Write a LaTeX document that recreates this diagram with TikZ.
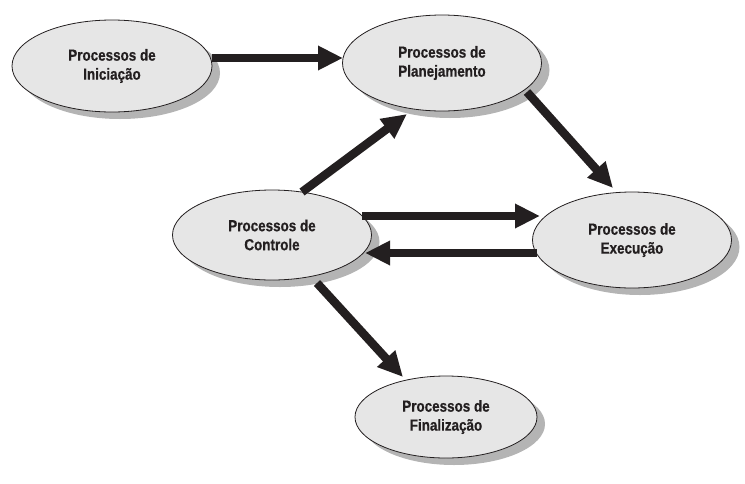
\documentclass[tikz,border=0pt]{standalone}
\usepackage{fontspec}
\setmainfont{Liberation Sans}[FakeStretch=0.84,FakeBold=0.6]
\usetikzlibrary{arrows.meta,shadows,shapes.geometric}

\definecolor{procfill}{HTML}{E6E6E6}
\definecolor{procshadow}{HTML}{B4B4B4}
\definecolor{ink}{HTML}{231F20}

\tikzset{
    proc/.style={ellipse,draw=ink,line width=0.8pt,fill=procfill,align=center,
        font=\bfseries\fontsize{16}{19}\selectfont,text=ink,inner sep=0pt,
        drop shadow={shadow xshift=8pt,shadow yshift=-7pt,fill=procshadow,opacity=1}},
    flow/.style={draw=ink,line width=8.5pt,-{Triangle[length=25pt,width=23pt]}}
}

\begin{document}
\begin{tikzpicture}[x=1pt,y=-1pt]
        \useasboundingbox (0,0) rectangle (745,483);

        \node[proc,minimum width=200pt,minimum height=92pt] (ini)   at (112,66)  {Processos de\\Iniciação};
        \node[proc,minimum width=199pt,minimum height=96pt] (plan)  at (442,63)  {Processos de\\Planejamento};
        \node[proc,minimum width=199pt,minimum height=90pt] (ctrl)  at (272,235) {Processos de\\Controle};
        \node[proc,minimum width=199pt,minimum height=96pt] (exec)  at (632,240) {Processos de\\Execução};
        \node[proc,minimum width=182pt,minimum height=82pt] (final) at (446,417) {Processos de\\Finalização};

        \draw[flow] ([shift={(100,-8)}]ini.center)  -- ([shift={(-99,-5)}]plan.center);
        \draw[flow] ([shift={(85,29)}]plan.center)  -- ([shift={(-19,-52)}]exec.center);
        \draw[flow] ([shift={(30,-43)}]ctrl.center) -- ([shift={(-35,51)}]plan.center);
        \draw[flow] ([shift={(90,-19)}]ctrl.center) -- ([shift={(-92,-24)}]exec.center);
        \draw[flow] ([shift={(-95,13)}]exec.center) -- ([shift={(93,18)}]ctrl.center);
        \draw[flow] ([shift={(45,48)}]ctrl.center)  -- ([shift={(-43,-40)}]final.center);
    \end{tikzpicture}
\end{document}
